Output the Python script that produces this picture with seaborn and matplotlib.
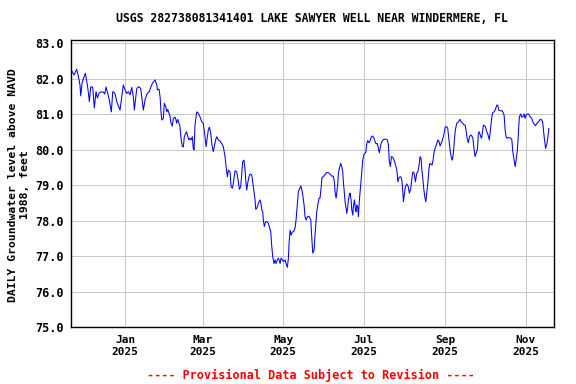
import matplotlib
matplotlib.use("Agg")
import matplotlib.pyplot as plt
import matplotlib.ticker as mticker
import numpy as np
import pandas as pd
import seaborn as sns

# ---- data ----
base_date = "2025-01-01"
day_offset = [
    -40.5, -38.7, -36.7, -35.4, -34.2, -33.6, -32.6, -31.1, -30.1, -28.6, -27.6, -27.1, -26.0, -24.5,
    -23.3, -22.0, -21.0, -19.7, -18.4, -16.5, -15.4, -14.4, -13.1, -11.9, -10.4, -9.3, -7.6, -6.3,
    -3.8, -2.5, -1.3, 0.0, 1.3, 2.5, 3.8, 5.1, 6.3, 7.1, 8.9, 10.4, 11.9, 13.9, 15.4, 16.9, 18.4,
    19.7, 21.0, 22.8,
    24.1, 24.5, 25.8, 26.6, 27.3, 27.9, 29.1, 29.8, 30.9, 31.7, 32.4, 33.4, 34.2, 34.9, 35.9, 36.7,
    38.0, 38.7, 39.2, 40.0, 41.0, 41.7, 42.5, 43.5, 44.3, 45.0, 46.1, 46.8, 47.6, 48.6, 49.3, 50.1,
    51.1, 51.8, 52.4, 53.1, 54.4, 55.6, 56.9, 58.2, 59.4, 60.7, 61.5, 62.5, 63.2, 64.0, 65.1, 65.8,
    67.0, 67.8, 68.8, 69.6, 70.8, 72.1, 73.4, 74.6, 75.9, 76.7, 77.7, 78.4,
    79.7, 80.5, 81.5, 82.2, 83.5, 84.8, 86.0, 86.8, 87.8, 88.6, 89.3, 90.3, 91.1, 91.8, 92.4, 93.1,
    94.1, 94.9, 96.2, 96.9, 97.9, 98.7, 99.2, 100.0, 101.2, 102.5, 103.2, 103.8, 104.5, 105.0, 105.7,
    106.8, 107.6, 108.8, 109.5, 110.6, 111.4, 112.1, 113.1, 113.9, 114.6, 115.6, 116.4, 117.1, 117.7,
    118.4, 119.4, 120.2, 121.5, 122.2, 123.2, 124.0, 124.5, 125.3, 126.0, 127.0, 127.8, 129.0, 129.8,
    130.3, 131.1, 131.5, 132.3, 133.4, 134.1, 134.9, 135.9, 136.6, 137.4, 138.4, 139.9, 141.0, 141.7,
    142.5, 143.5,
    144.2, 145.0, 145.5, 146.5, 147.3, 148.0, 148.8, 149.5, 150.5, 151.8, 153.1, 154.3, 155.6, 156.9,
    158.1, 158.9, 159.4, 160.2, 160.7, 161.5, 161.9, 162.7, 163.7, 164.5, 165.3, 165.7, 166.5, 167.0,
    167.8, 168.3, 169.1, 169.5, 170.3, 170.8, 171.6, 172.1, 172.9, 173.3, 174.1, 174.8, 175.3, 175.9,
    176.6, 177.1, 177.9, 178.4, 178.9, 179.7, 180.4, 181.4, 182.7, 183.5, 184.2, 185.2, 186.0, 187.0,
    188.0, 189.0, 189.8, 190.5, 191.5, 192.3, 193.0, 193.6, 194.3, 195.3, 196.6, 198.1, 199.1, 199.9,
    200.6, 201.4, 202.2, 203.2, 204.2,
    205.0, 206.3, 207.1, 208.1, 209.4, 210.1, 210.9, 211.3, 212.1, 212.8, 213.8, 215.0, 215.8, 216.9,
    217.6, 218.4, 219.4, 220.4, 221.4, 222.2, 223.2, 223.9, 224.7, 225.2, 226.0, 226.7, 227.5, 228.3,
    229.0, 229.8, 230.6, 231.3, 232.1, 233.0, 233.8, 234.6, 235.3, 236.6, 237.4, 238.4, 239.1, 239.9,
    240.9, 241.6, 242.4, 243.1, 244.2, 244.9, 245.7, 246.7, 247.5, 248.4, 249.2, 250.0, 250.7, 251.8,
    253.0, 254.3, 255.1, 256.3, 257.3, 258.1, 258.8, 259.8, 260.6, 261.4, 262.4,
    263.2, 264.0, 265.0, 265.7, 266.4, 267.4, 268.2, 268.9, 270.0, 270.7, 272.0, 273.3, 274.6, 275.8,
    276.5, 277.6, 278.4, 279.1, 280.1, 280.9, 282.2, 282.9, 283.7, 284.7, 286.4, 287.7, 288.5, 289.2,
    289.8, 291.0, 292.8, 293.6, 294.3, 295.3, 296.1, 296.8, 297.8, 298.6, 299.3, 300.4, 301.1, 301.9,
    302.9, 303.6, 304.4, 305.4, 306.4, 307.4, 308.7, 309.5, 310.5, 311.5, 312.6, 313.8, 315.1, 316.4,
    317.1, 318.1, 319.2, 320.2, 321.0, 321.7,
]
level_ft = [
    82.22, 82.10, 82.26, 82.07, 81.82, 81.51, 81.87, 82.05, 82.15, 81.82, 81.54, 81.35, 81.77, 81.75,
    81.17, 81.63, 81.45, 81.59, 81.62, 81.62, 81.56, 81.76, 81.58, 81.39, 81.06, 81.63, 81.58, 81.35,
    81.11, 81.49, 81.82, 81.68, 81.58, 81.63, 81.54, 81.75, 81.49, 81.11, 81.72, 81.77, 81.72, 81.11,
    81.44, 81.58, 81.63, 81.77, 81.88, 81.96,
    81.82, 81.68, 81.70, 81.49, 81.06, 80.83, 80.88, 81.30, 81.21, 81.06, 81.13, 81.02, 80.92, 80.74,
    80.66, 80.88, 80.91, 80.83, 80.74, 80.85, 80.74, 80.64, 80.32, 80.08, 80.08, 80.36, 80.46, 80.50,
    80.36, 80.27, 80.32, 80.27, 80.36, 80.03, 79.99, 80.69, 81.06, 81.02, 80.92, 80.78, 80.74, 80.36,
    80.08, 80.36, 80.55, 80.63, 80.46, 80.17, 79.94, 80.08, 80.27, 80.36, 80.27, 80.24, 80.17, 80.08,
    79.80, 79.52, 79.23, 79.42,
    79.37, 78.95, 78.91, 79.05, 79.40, 79.37, 79.09, 78.88, 78.95, 79.33, 79.66, 79.70, 79.42, 79.05,
    78.86, 79.05, 79.23, 79.31, 79.28, 79.09, 78.81, 78.58, 78.32, 78.34, 78.48, 78.58, 78.48, 78.30,
    78.25, 78.01, 77.83, 77.97, 77.97, 77.92, 77.83, 77.68, 77.26, 76.98, 76.79, 76.89, 76.79, 76.89,
    76.94, 76.87, 76.79, 76.94, 76.89, 76.84, 76.89, 76.79, 76.68, 76.94, 77.36, 77.73, 77.59, 77.68,
    77.68, 77.78, 78.01, 78.25, 78.58, 78.81, 78.88, 78.97, 78.88, 78.72, 78.44, 78.11, 78.01, 78.11,
    78.11, 78.01, 77.54, 77.08, 77.17,
    77.59, 78.01, 78.25, 78.48, 78.63, 78.63, 78.91, 79.22, 79.23, 79.30, 79.35, 79.35, 79.31, 79.25,
    79.25, 79.09, 78.81, 78.63, 78.77, 79.05, 79.33, 79.47, 79.61, 79.52, 79.35, 79.09, 78.77, 78.53,
    78.34, 78.20, 78.39, 78.58, 78.72, 78.77, 78.58, 78.30, 78.15, 78.39, 78.58, 78.34, 78.25, 78.44,
    78.39, 78.11, 78.58, 78.81, 79.00, 79.37, 79.70, 79.87, 79.91, 80.17, 80.25, 80.19, 80.25, 80.36,
    80.38, 80.32, 80.22, 80.16, 80.17, 80.03, 79.91, 80.03, 80.16, 80.25, 80.29, 80.29, 80.27, 80.13,
    79.66, 79.52, 79.80, 79.78, 79.70,
    79.61, 79.42, 79.09, 79.22, 79.23, 79.14, 78.77, 78.53, 78.77, 78.95, 79.03, 78.95, 78.77, 78.91,
    79.14, 79.37, 79.33, 79.09, 79.33, 79.37, 79.56, 79.80, 79.75, 79.47, 79.19, 78.91, 78.67, 78.53,
    78.77, 79.05, 79.42, 79.61, 79.59, 79.56, 79.70, 79.94, 80.03, 80.16, 80.27, 80.22, 80.10, 80.17,
    80.27, 80.36, 80.50, 80.64, 80.64, 80.60, 80.32, 79.99, 79.80, 79.70, 79.89, 80.27, 80.55, 80.74,
    80.78, 80.85, 80.78, 80.74, 80.69, 80.69, 80.55, 80.29, 80.19, 80.36, 80.41,
    80.38, 80.32, 79.99, 79.80, 79.89, 79.99, 80.46, 80.50, 80.36, 80.32, 80.69, 80.66, 80.50, 80.38,
    80.27, 80.64, 80.92, 81.04, 81.06, 81.11, 81.25, 81.25, 81.11, 81.09, 81.09, 80.97, 80.55, 80.36,
    80.32, 80.34, 80.32, 80.27, 79.94, 79.70, 79.52, 79.70, 79.99, 80.46, 80.92, 81.00, 80.91, 80.92,
    81.00, 80.88, 80.97, 81.00, 81.00, 80.92, 80.88, 80.78, 80.72, 80.67, 80.74, 80.78, 80.85, 80.83,
    80.74, 80.36, 80.03, 80.17, 80.36, 80.60,
]
tick_dates = ["2025-01-01", "2025-03-01", "2025-05-01", "2025-07-01", "2025-09-01", "2025-11-01"]
tick_labels = ["Jan\n2025", "Mar\n2025", "May\n2025", "Jul\n2025", "Sep\n2025", "Nov\n2025"]
y_ticks = [75.0, 76.0, 77.0, 78.0, 79.0, 80.0, 81.0, 82.0, 83.0]
x_range = ["2024-11-21", "2025-11-22 14:00"]
y_range = [75.0, 83.085]

title = "USGS 282738081341401 LAKE SAWYER WELL NEAR WINDERMERE, FL"
ylabel = "DAILY Groundwater level above NAVD\n1988, feet"
footer = "---- Provisional Data Subject to Revision ----"

# ---- build frame ----
df = pd.DataFrame({
    "date": pd.Timestamp(base_date) + pd.to_timedelta(day_offset, unit="D"),
    "level": level_ft,
})

sns.set_style("white")
plt.rcParams["font.family"] = ["DejaVu Sans Mono"]
plt.rcParams["font.weight"] = "bold"
plt.rcParams["text.color"] = "black"
plt.rcParams["xtick.color"] = "black"
plt.rcParams["ytick.color"] = "black"
plt.rcParams["xtick.labelcolor"] = "black"
plt.rcParams["ytick.labelcolor"] = "black"

fig = plt.figure(figsize=(5.76, 3.84), dpi=100)
ax = fig.add_axes([71 / 576, 1 - 327 / 384, (554 - 71) / 576, (327 - 40) / 384])

sns.lineplot(data=df, x="date", y="level", ax=ax, color="#0000ff", linewidth=0.75,
             estimator=None, sort=False)

ax.set_xlim(pd.Timestamp(x_range[0]), pd.Timestamp(x_range[1]))
ax.set_ylim(*y_range)
ax.set_xticks([pd.Timestamp(d) for d in tick_dates])
ax.set_xticklabels(tick_labels, fontsize=8, fontweight="bold", linespacing=1.25, color="black")
ax.set_yticks(y_ticks)
ax.yaxis.set_major_formatter(mticker.FormatStrFormatter("%.1f"))
for lab in ax.get_yticklabels():
    lab.set_fontsize(8.5)
    lab.set_fontweight("bold")
    lab.set_color("black")
ax.tick_params(axis="x", length=0, pad=6, labelcolor="black")
ax.tick_params(axis="y", length=0, pad=5.5, labelcolor="black")
ax.set_xlabel("")
ax.set_ylabel("")
ax.grid(True, color="#c8c8c8", linewidth=0.72, antialiased=False)
ax.set_axisbelow(True)
for s in ax.spines.values():
    s.set_visible(True)
    s.set_color("black")
    s.set_linewidth(1.0)

fig.text(312 / 576, 1 - 19 / 384, title, ha="center", va="center", fontsize=8.3,
         fontweight="bold", color="black")
fig.text(19 / 576, 1 - 185 / 384, ylabel, ha="center", va="center", rotation=90,
         fontsize=8.2, fontweight="bold", multialignment="center", linespacing=1.15, color="black")
fig.text(311 / 576, 1 - 375 / 384, footer, ha="center", va="center", fontsize=8.5,
         fontweight="bold", color="#ff0000")

fig.savefig("out.png", dpi=100)
